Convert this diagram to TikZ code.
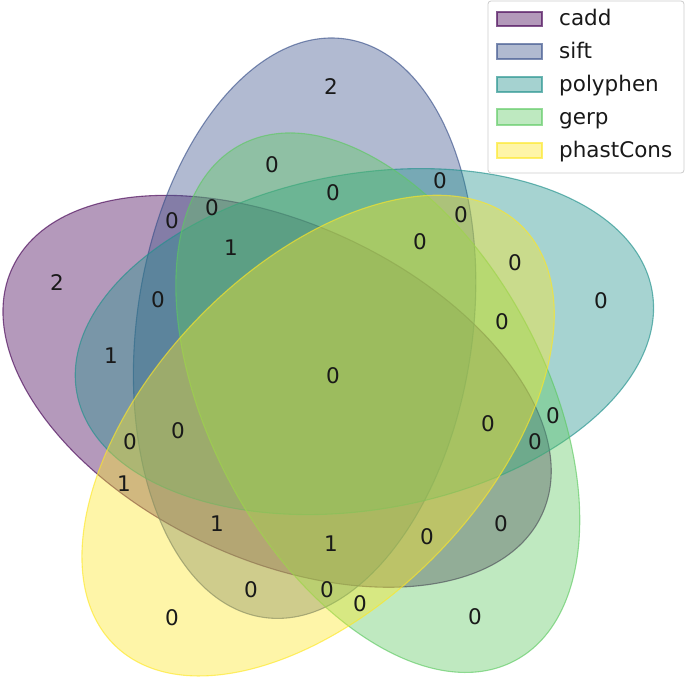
\documentclass[tikz,border=0pt]{standalone}
\usepackage{fontspec}
\setmainfont{DejaVu Sans}
\definecolor{vA}{RGB}{68,1,84}
\definecolor{vB}{RGB}{59,82,139}
\definecolor{vC}{RGB}{33,145,140}
\definecolor{vD}{RGB}{94,201,98}
\definecolor{vE}{RGB}{253,231,37}
\begin{document}
\begin{tikzpicture}[x=1pt,y=1pt,
  setshape/.style={fill=#1, draw=#1, fill opacity=0.4, draw opacity=0.65, line width=1.1pt},
  lbl/.style={inner sep=0pt, font=\fontsize{21.5}{26}\selectfont, text=black!90},
  legtxt/.style={inner sep=0pt, anchor=base west, font=\fontsize{21.5}{26}\selectfont, text=black!90},
  legpatch/.style={fill=#1, draw=#1, fill opacity=0.4, draw opacity=0.65, line width=1.1pt}]
\useasboundingbox (0,0) rectangle (685,678);
% sets
\path[setshape=vA, rotate around={155:(277.1,286.7)}] (277.1,286.7) ellipse [x radius=292.1, y radius=167.9];
\path[setshape=vB, rotate around={82:(304.6,349.8)}] (304.6,349.8) ellipse [x radius=292.1, y radius=167.9];
\path[setshape=vC, rotate around={10:(364.4,336.4)}] (364.4,336.4) ellipse [x radius=292.1, y radius=167.9];
\path[setshape=vD, rotate around={118:(377.8,275.3)}] (377.8,275.3) ellipse [x radius=292.1, y radius=167.9];
\path[setshape=vE, rotate around={46:(318.1,242.4)}] (318.1,242.4) ellipse [x radius=292.1, y radius=167.9];
% region labels
\node[lbl] (r01) at (331,591) {2};
\node[lbl] (r02) at (272,513) {0};
\node[lbl] (r03) at (333,485) {0};
\node[lbl] (r04) at (440,497) {0};
\node[lbl] (r05) at (461,463) {0};
\node[lbl] (r06) at (172,457) {0};
\node[lbl] (r07) at (212,470) {0};
\node[lbl] (r08) at (231,430) {1};
\node[lbl] (r09) at (420,436) {0};
\node[lbl] (r10) at (515,415) {0};
\node[lbl] (r11) at (57,395) {2};
\node[lbl] (r12) at (601,377) {0};
\node[lbl] (r13) at (158,378) {0};
\node[lbl] (r14) at (502,356) {0};
\node[lbl] (r15) at (111,322) {1};
\node[lbl] (r16) at (333,302) {0};
\node[lbl] (r17) at (553,262) {0};
\node[lbl] (r18) at (488,254) {0};
\node[lbl] (r19) at (178,247) {0};
\node[lbl] (r20) at (130,236) {0};
\node[lbl] (r21) at (535,236) {0};
\node[lbl] (r22) at (124,194) {1};
\node[lbl] (r23) at (217,154) {1};
\node[lbl] (r24) at (501,154) {0};
\node[lbl] (r25) at (331,134) {1};
\node[lbl] (r26) at (427,141) {0};
\node[lbl] (r27) at (251,88) {0};
\node[lbl] (r28) at (327,88) {0};
\node[lbl] (r29) at (360,74) {0};
\node[lbl] (r30) at (172,60) {0};
\node[lbl] (r31) at (475,61) {0};
% legend
\draw[rounded corners=3pt, draw=black!20, line width=0.8pt, fill=white, fill opacity=0.8] (488,677) rectangle (684,505);
\path[legpatch=vA] (497,652) rectangle (542,666);
\path[legpatch=vB] (497,619) rectangle (542,634);
\path[legpatch=vC] (497,586) rectangle (542,601);
\path[legpatch=vD] (497,553) rectangle (542,569);
\path[legpatch=vE] (497,520) rectangle (542,535);
\node[legtxt] (t1) at (559,652) {cadd};
\node[legtxt] (t2) at (559,619) {sift};
\node[legtxt] (t3) at (559,586) {polyphen};
\node[legtxt] (t4) at (559,553) {gerp};
\node[legtxt] (t5) at (559,520) {phastCons};
\end{tikzpicture}
\end{document}
